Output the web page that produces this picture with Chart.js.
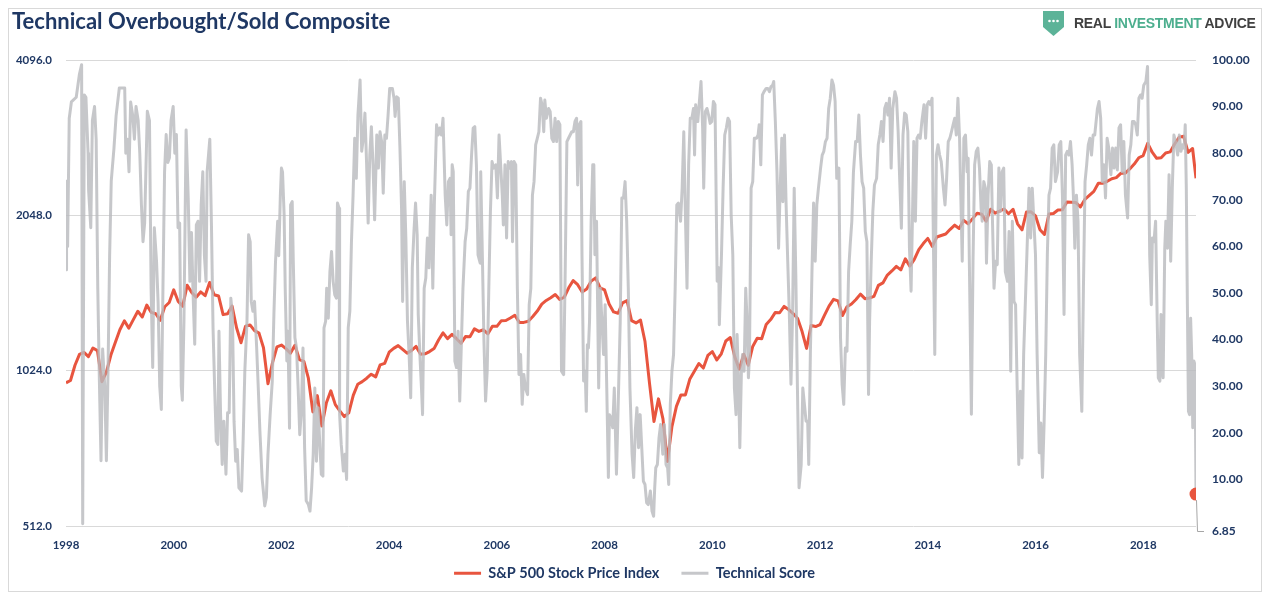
<!DOCTYPE html>
<html><head><meta charset="utf-8">
<script src="https://cdn.jsdelivr.net/npm/chart.js@4.4.1/dist/chart.umd.min.js"></script>
<style>
html,body{margin:0;padding:0;background:#fff;}
#wrap{position:relative;width:1269px;height:600px;overflow:hidden;}
#frame{position:absolute;left:8px;top:8px;width:1252px;height:582px;border:1px solid #d9d9d9;}
#title{position:absolute;left:12px;top:8px;font:bold 22px Lato, sans-serif;color:#1f3864;line-height:26px;white-space:nowrap;}
#logo{position:absolute;left:1043px;top:10px;height:26px;display:flex;align-items:center;}
#logo .t{font:bold 14px "Liberation Sans", Arial, sans-serif;color:#404040;margin-left:10px;letter-spacing:-0.3px;white-space:nowrap;}
#logo .g{color:#4cae8e;}
canvas{position:absolute;left:0;top:0;}
</style></head>
<body>
<div id="wrap">
  <div id="frame"></div>
  <canvas id="c" width="1269" height="600"></canvas>
  <div id="title">Technical Overbought/Sold Composite</div>
  <div id="logo">
    <svg width="21" height="25" viewBox="0 0 21 25"><path d="M0 0 H21 V16 L10.5 25 L0 16 Z" fill="#5cb398"/><circle cx="6.5" cy="10" r="1.3" fill="#fff"/><circle cx="10.5" cy="10" r="1.3" fill="#fff"/><circle cx="14.5" cy="10" r="1.3" fill="#fff"/></svg>
    <span class="t">REAL <span class="g">INVESTMENT</span> ADVICE</span>
  </div>
</div>
<script>
// ---- S&P 500: month-end values, first value = end of Dec 1997 (at 1998.0) ----
const spxStartYear = 1998;
const spxMonthEnd = [
  970,
  980,1049,1101,1111,1090,1133,1120,975,1017,1098,1163,1229,
  1279,1238,1286,1335,1301,1372,1328,1320,1282,1362,1388,1469,
  1394,1366,1499,1452,1421,1455,1431,1518,1437,1429,1315,1320,
  1366,1240,1160,1249,1256,1224,1211,1134,966,1060,1139,1148,
  1130,1107,1147,1076,1067,990,852,916,800,886,936,880,
  856,834,848,917,964,975,990,1008,996,1051,1058,1112,
  1131,1145,1126,1107,1121,1141,1102,1104,1115,1130,1174,1212,
  1181,1204,1181,1157,1192,1191,1234,1220,1229,1207,1249,1248,
  1280,1281,1295,1311,1270,1270,1277,1304,1336,1378,1401,1418,
  1438,1407,1421,1482,1531,1503,1455,1474,1527,1549,1481,1468,
  1379,1331,1323,1386,1400,1280,1267,1283,1166,969,816,903,
  826,683,798,873,919,919,987,1021,1057,1036,1096,1115,
  1074,1104,1169,1187,1089,1031,1102,1049,1141,1183,1181,1258,
  1286,1327,1326,1364,1345,1321,1292,1219,1131,1253,1247,1258,
  1312,1366,1408,1398,1310,1362,1379,1407,1441,1412,1416,1426,
  1498,1515,1569,1598,1631,1606,1686,1633,1682,1757,1806,1848,
  1783,1859,1872,1884,1924,1960,1931,2003,1972,2018,2068,2059,
  1995,2105,2068,2086,2107,2063,2104,1972,1920,2079,2080,2044,
  1920,1880,2060,2065,2097,2099,2174,2171,2168,2126,2199,2239,
  2279,2364,2363,2384,2412,2423,2470,2472,2519,2575,2648,2674,
  2824,2714,2641,2648,2705,2718,2816,2902,2914,2712,2760
];
const spxLastDate = 2018.98;
const spxLastValue = 2417;

// ---- Technical score: dates (decimal years) and values ----
const techDates = [
  1998.00,1998.01,1998.03,1998.06,1998.10,1998.19,1998.25,1998.29,1998.31,1998.34,1998.37,1998.41,1998.42,1998.46,1998.49,1998.53,1998.56,1998.59,1998.62,1998.65,1998.68,1998.72,1998.75,1998.78,1998.81,1998.84,1998.89,1998.93,1998.96,1998.99,
  1999.09,1999.11,1999.14,1999.17,1999.20,1999.24,1999.27,1999.30,1999.34,1999.37,1999.40,1999.43,1999.46,1999.51,1999.55,1999.58,1999.61,1999.64,1999.68,1999.71,1999.74,1999.77,1999.80,1999.83,1999.86,1999.89,1999.92,1999.95,1999.99,
  2000.02,2000.05,2000.08,2000.11,2000.14,2000.16,2000.19,2000.23,2000.27,2000.30,2000.33,2000.36,2000.39,2000.42,2000.45,2000.48,2000.51,2000.54,2000.57,2000.60,2000.62,2000.67,2000.70,2000.73,2000.76,2000.79,2000.82,2000.84,2000.87,2000.90,2000.93,2000.97,
  2001.00,2001.03,2001.06,2001.09,2001.12,2001.15,2001.18,2001.21,2001.26,2001.29,2001.32,2001.36,2001.39,2001.42,2001.44,2001.47,2001.50,2001.54,2001.57,2001.60,2001.64,2001.69,2001.72,2001.75,2001.79,2001.83,2001.86,2001.89,2001.93,2001.95,2001.98,
  2002.00,2002.02,2002.05,2002.07,2002.10,2002.12,2002.15,2002.17,2002.20,2002.22,2002.25,2002.28,2002.31,2002.34,2002.37,2002.40,2002.43,2002.46,2002.50,2002.53,2002.56,2002.59,2002.62,2002.65,2002.68,2002.71,2002.74,2002.77,2002.79,2002.82,2002.84,2002.87,2002.90,2002.93,2002.96,2002.99,
  2003.02,2003.04,2003.07,2003.08,2003.11,2003.15,2003.18,2003.21,2003.24,2003.27,2003.30,2003.33,2003.36,2003.39,2003.42,2003.46,2003.49,2003.52,2003.55,2003.58,2003.61,2003.64,2003.67,2003.70,2003.73,2003.77,2003.80,2003.83,2003.86,2003.89,2003.92,2003.95,2003.98,
  2004.01,2004.06,2004.09,2004.11,2004.14,2004.17,2004.20,2004.23,2004.25,2004.28,2004.31,2004.34,2004.37,2004.40,2004.43,2004.46,2004.49,2004.52,2004.54,2004.57,2004.60,2004.62,2004.65,2004.68,2004.71,2004.74,2004.78,2004.81,2004.84,2004.88,2004.91,2004.94,2004.97,
  2005.00,2005.04,2005.07,2005.10,2005.13,2005.15,2005.17,2005.19,2005.22,2005.25,2005.28,2005.31,2005.34,2005.37,2005.41,2005.44,2005.47,2005.50,2005.53,2005.56,2005.59,2005.62,2005.65,2005.69,2005.70,2005.73,2005.76,2005.79,2005.82,2005.85,2005.88,2005.91,2005.94,2005.98,
  2006.01,2006.04,2006.07,2006.10,2006.12,2006.15,2006.18,2006.21,2006.24,2006.27,2006.29,2006.32,2006.35,2006.38,2006.41,2006.44,2006.47,2006.50,2006.53,2006.57,2006.60,2006.63,2006.66,2006.69,2006.72,2006.75,2006.78,2006.81,2006.84,2006.87,2006.89,2006.92,2006.96,2006.99,
  2007.02,2007.05,2007.08,2007.11,2007.14,2007.17,2007.20,2007.24,2007.27,2007.30,2007.33,2007.36,2007.39,2007.42,2007.45,2007.48,2007.50,2007.53,2007.56,2007.58,2007.61,2007.64,2007.66,2007.68,2007.70,2007.72,2007.75,2007.78,2007.80,2007.82,2007.85,2007.89,2007.92,2007.95,2007.98,
  2008.01,2008.04,2008.07,2008.09,2008.12,2008.15,2008.18,2008.22,2008.26,2008.29,2008.32,2008.35,2008.38,2008.41,2008.44,2008.47,2008.51,2008.54,2008.57,2008.60,2008.63,2008.66,2008.69,2008.72,2008.75,2008.78,2008.81,2008.85,2008.88,2008.91,2008.93,2008.95,2008.98,
  2009.01,2009.04,2009.08,2009.11,2009.14,2009.17,2009.19,2009.22,2009.25,2009.28,2009.31,2009.34,2009.37,2009.41,2009.44,2009.47,2009.50,2009.53,2009.56,2009.59,2009.62,2009.65,2009.67,2009.69,2009.73,2009.76,2009.79,2009.82,2009.84,2009.87,2009.90,2009.93,2009.96,2009.99,
  2010.02,2010.05,2010.09,2010.12,2010.13,2010.17,2010.20,2010.23,2010.26,2010.29,2010.32,2010.35,2010.38,2010.41,2010.44,2010.46,2010.49,2010.51,2010.54,2010.56,2010.59,2010.62,2010.64,2010.67,2010.69,2010.72,2010.75,2010.78,2010.82,2010.85,2010.87,2010.90,2010.93,2010.96,
  2011.00,2011.03,2011.06,2011.09,2011.12,2011.14,2011.17,2011.20,2011.23,2011.26,2011.29,2011.31,2011.34,2011.37,2011.40,2011.43,2011.46,2011.49,2011.52,2011.55,2011.58,2011.61,2011.65,2011.68,2011.71,2011.74,2011.77,2011.79,2011.82,2011.85,2011.88,2011.91,2011.94,2011.97,
  2012.01,2012.04,2012.07,2012.10,2012.13,2012.16,2012.19,2012.22,2012.25,2012.28,2012.31,2012.35,2012.36,2012.38,2012.41,2012.44,2012.47,2012.50,2012.53,2012.56,2012.59,2012.62,2012.66,2012.69,2012.72,2012.75,2012.78,2012.81,2012.84,2012.87,2012.90,2012.92,2012.95,2012.98,
  2013.01,2013.05,2013.08,2013.11,2013.14,2013.17,2013.20,2013.23,2013.26,2013.29,2013.32,2013.35,2013.39,2013.42,2013.45,2013.48,2013.51,2013.54,2013.57,2013.60,2013.63,2013.66,2013.69,2013.72,2013.74,2013.77,2013.80,2013.83,2013.86,2013.89,2013.93,2013.96,2013.99,
  2014.02,2014.05,2014.08,2014.10,2014.13,2014.16,2014.19,2014.22,2014.25,2014.29,2014.32,2014.35,2014.38,2014.41,2014.44,2014.47,2014.50,2014.53,2014.56,2014.59,2014.61,2014.64,2014.67,2014.70,2014.73,2014.75,2014.77,2014.81,2014.84,2014.87,2014.90,2014.93,2014.96,2014.99,
  2015.01,2015.04,2015.07,2015.09,2015.12,2015.15,2015.18,2015.20,2015.23,2015.26,2015.29,2015.32,2015.35,2015.38,2015.41,2015.44,2015.48,2015.51,2015.54,2015.57,2015.60,2015.63,2015.66,2015.69,2015.72,2015.75,2015.78,2015.82,2015.85,2015.88,2015.91,2015.94,2015.97,
  2016.00,2016.03,2016.07,2016.10,2016.13,2016.16,2016.19,2016.22,2016.25,2016.28,2016.31,2016.34,2016.37,2016.41,2016.44,2016.47,2016.50,2016.53,2016.56,2016.59,2016.62,2016.65,2016.68,2016.71,2016.73,2016.76,2016.79,2016.82,2016.86,2016.89,2016.92,2016.95,2016.98,
  2017.01,2017.04,2017.07,2017.10,2017.15,2017.18,2017.21,2017.24,2017.27,2017.30,2017.33,2017.36,2017.40,2017.43,2017.46,2017.49,2017.52,2017.55,2017.58,2017.61,2017.64,2017.67,2017.71,2017.74,2017.77,2017.80,2017.83,2017.86,2017.89,2017.92,2017.95,2017.98,
  2018.01,2018.05,2018.08,2018.10,2018.12,2018.15,2018.17,2018.20,2018.23,2018.26,2018.28,2018.31,2018.33,2018.36,2018.37,2018.40,2018.42,2018.45,2018.48,2018.51,2018.54,2018.57,2018.60,2018.64,2018.67,2018.70,2018.73,2018.76,2018.78,2018.80,2018.82,2018.84,2018.86,2018.88,2018.90,2018.92,2018.94,2018.96,2018.97,2018.98
];
const techValues = [
  55,74,60,87.5,91,92,97,99,0.5,92.5,92,80,72,64,87,90,83,51,31,14,38,30,14,33,58,74,81,88,91,94,
  94,80,83,76,91,88,83,90,87,80,69,61,65,89,87,51,34,64,57,48,30,25,51,76,84,78,79,87,90,
  80,84,64,65,30,27,44,85,70,52.5,63,49.6,39,64.6,65.4,52.5,69,76,58,52.5,76,83,65,42.5,29.6,18.2,17.5,41.8,23.9,13.2,22.5,11.1,
  24.3,24.3,48.9,45.4,22.5,13.9,16.4,8.2,7.5,18.9,33.2,43.9,62.5,61,48.2,46.1,48.2,38.2,29.6,20.4,10.4,4.3,6.1,15.4,23.9,31.1,45.4,56.8,65.4,58,71,
  76.8,76,66.8,51,35.4,41.8,21,68.9,69.6,56.8,40.4,38.2,29.6,19.6,24.6,38.2,16.8,5.4,4.6,3.2,8.2,15.4,29.6,13.9,25.4,18.2,11.1,10.7,42.5,43.9,51,44.6,54.6,58.9,52.5,49.6,
  48.9,69.3,68.2,23.9,17.5,11.8,15.4,10,42.5,46.1,61,71,83.2,74.6,88.2,95.7,80.4,83.2,88.6,78.2,65,79.6,85.7,77.5,65.7,83.9,76.8,84.6,82.5,71.4,83.9,83.2,88.2,
  93.9,93.9,91.8,87.9,92.1,91.8,81.1,68.2,48.2,73.9,61.8,43.9,36.8,27.5,55.4,63.2,69.3,62.5,45.4,36.8,29.6,23.9,51,53.2,61.8,55.4,71,51,69.6,86.1,83.9,85.4,83.9,
  87.5,71,64.6,73.9,74.6,62.5,77.5,76,35.4,34,41.8,26.8,38.9,51,61,63.9,71.8,72.5,79.6,85.4,85.7,77.5,58.2,56.4,76,58.2,39.6,26.8,33.2,51,67.5,78.2,76.8,77.5,
  70.4,83.9,77.5,71,64.6,77.5,61.8,78.2,76.8,78.2,61,78.2,77.5,51,32.5,36.8,26.1,32.5,29.6,28.2,47.5,51,71,73.9,81.8,83.2,84.6,91.8,90.4,84.6,91.4,87.5,89.6,88.9,
  83.2,82.5,87.5,82.5,86.8,86.1,33.2,32.5,56.1,82.5,83.2,83.9,84.6,84.6,86.8,87.5,73.2,86.1,86.8,58.2,31.1,33.2,24.6,38.9,38.2,43.9,65.4,77.5,77.5,58.2,65.4,29.6,51,43.9,36.8,
  47.5,29.6,10.4,23.9,23.2,21.1,29.6,11.1,29.6,43.9,70.4,70.4,73.9,65.4,51,29.6,15.4,10.4,20.4,25.4,16.8,23.9,16.8,9.6,8.9,5,4.6,7.5,3.2,2.1,8.2,12.5,13.2,
  18.9,21.8,15.4,21.8,13.2,12.5,8.9,26.1,33.2,36.8,51,68.9,69.3,65.4,72.5,84.6,66.8,51,77.5,87.5,87.5,89.6,79.6,90.4,86.8,91.1,95.4,85.4,72.5,88.9,89.6,88.2,86.4,86.8,
  91.1,90.4,52.5,55.4,43.2,58.2,72.5,83.9,85.4,87.5,86.8,66.8,58.2,29.6,23.9,41.1,29.6,16.8,33.2,36.8,33.2,51,45.4,31.8,36.8,72.5,73.9,83.2,83.2,83.9,86.1,77.5,92.5,93.2,
  93.9,93.9,93.2,94.3,94.6,95.4,86.8,76,59.6,72.5,83.2,69.6,83.9,68.9,56.8,45.4,30.4,45.4,72.5,53.9,29.6,8.2,13.2,29.6,26.1,22.5,22.5,13.2,36.8,54.6,69.3,56.8,68.9,72.5,
  76.8,79.6,80.4,82.5,83.2,89.6,91.8,95.7,94.6,91.1,74.6,76.8,65.4,40.4,30.4,26.1,38.2,37.5,54.6,60.4,65.4,76,82.5,82.5,88.2,79.6,73.9,72.5,63.2,61,28.2,43.9,56.8,67.5,
  73.2,74.6,81.8,83.9,86.8,82.5,89.6,90.7,88.2,91.8,76.8,89.6,93.2,91.8,84.6,73.9,63.9,83.9,88.6,88.2,84.6,59.6,50.4,68.9,82.5,65.4,83.2,83.9,83.2,86.8,90.4,83.2,90.4,
  91.1,90.4,91.8,65.4,36.8,79.6,81.8,79.6,78.2,72.5,68.9,74.6,82.5,83.2,84.6,86.1,87.5,83.9,91.8,83.2,72.5,56.8,83.2,83.9,76,78.9,58.2,24,56.8,77.5,80.4,81.1,76.8,68.2,
  65.4,73.9,72.5,56.4,71,78.2,77.5,66.1,51,56.8,56.1,76.8,67.5,76,76.8,54.6,52.5,63.2,33.2,65.4,48.2,47.5,29.6,13.2,28.9,14.6,36.8,51,61.8,72.5,61.8,72.5,65.4,
  58.2,36.8,15.7,22.1,10.4,22.1,36.8,58.2,71,72.5,81.1,81.8,73.9,76,81.8,82.5,71,45.4,79.6,80.4,79.6,82.5,77.5,68.9,59.6,71,65.4,36.8,24.6,51,73.9,77.5,81.8,
  83.2,79.6,83.9,83.9,89.6,91.1,87.5,73.9,77.5,70.4,83.2,81.1,75.4,81.1,76.8,81.1,76.4,85.4,86.1,76,82.5,71,66.1,79.6,81.8,86.8,86.8,86.1,83.9,91.8,92.5,91.8,
  94.6,95.4,98.6,79.6,58.2,47.5,61.8,61,65.4,43.9,31.8,31.1,45.4,33.2,31.8,59.6,65.4,59.6,75.4,56.8,72.5,83.9,82.5,79.6,83.9,80.4,81.8,81.1,86.1,72.5,47.5,24.6,23.9,44.6,36.8,21.1,35.4,34.6,22.5,6.85
];

// ---- Axis ticks ----
const yearTicks = [1998,2000,2002,2004,2006,2008,2010,2012,2014,2016,2018];
const spxTicks = [512,1024,2048,4096];
const scoreTicks = [10,20,30,40,50,60,70,80,90,100];

const RED = '#e8553f';
const GRAY = 'rgba(186,187,190,0.82)';
const NAVY = '#1f3864';
const TICK_FONT = {family:'Lato', weight:'bold', size:11.5};

const spxPoints = spxMonthEnd.map((v,i)=>({x: spxStartYear + i/12, y: v}));
spxPoints.push({x: spxLastDate, y: spxLastValue});
const n = Math.min(techDates.length, techValues.length);
const techPoints = [];
for (let i=0;i<n;i++) techPoints.push({x: techDates[i], y: techValues[i]});

const lastValueCallout = {
  id:'lastValueCallout',
  afterDatasetsDraw(chart){
    const meta = chart.getDatasetMeta(1);
    const pt = meta.data[meta.data.length-1];
    const area = chart.chartArea;
    const ctx = chart.ctx;
    const yLabel = area.bottom + 5;
    ctx.save();
    ctx.strokeStyle = '#a6a6a6'; ctx.lineWidth = 1;
    ctx.beginPath();
    ctx.moveTo(pt.x + 0.5, pt.y + 6);
    ctx.lineTo(pt.x + 1.5, yLabel + 0.5);
    ctx.lineTo(pt.x + 8, yLabel + 0.5);
    ctx.stroke();
    ctx.fillStyle = NAVY;
    ctx.font = 'bold 12px Lato';
    ctx.textAlign = 'left'; ctx.textBaseline = 'middle';
    ctx.fillText(techValues[n-1].toFixed(2), area.right + 16, yLabel);
    ctx.restore();
  }
};

// move the legend row up a little so it sits where the original's does
const legendShift = {
  id:'legendShift',
  afterLayout(chart){
    const l = chart.legend;
    if (l) { l.top -= 9; l.bottom -= 9; }
  }
};

new Chart(document.getElementById('c'), {
  type:'line',
  data:{
    datasets:[
      {label:'S&P 500 Stock Price Index', data: spxPoints, yAxisID:'y', borderColor: RED, backgroundColor: RED,
       borderWidth:3, pointRadius:0, pointHoverRadius:0, tension:0, borderJoinStyle:'round', order:1},
      {label:'Technical Score', data: techPoints, yAxisID:'y1', borderColor: GRAY, backgroundColor: GRAY,
       borderWidth:3, tension:0, borderJoinStyle:'round', order:0,
       pointRadius: c => c.dataIndex === n-1 ? 6.5 : 0,
       pointHoverRadius: c => c.dataIndex === n-1 ? 6.5 : 0,
       pointBackgroundColor: RED, pointBorderColor: RED, pointBorderWidth:0}
    ]
  },
  options:{
    responsive:false, animation:false,
    events:[],
    layout:{padding:{left:0,right:0,top:60,bottom:0.5}},
    scales:{
      x:{type:'linear', min:1998, max:2018.98,
         afterBuildTicks: s => { s.ticks = yearTicks.map(v=>({value:v})); },
         afterFit: s => { s.height = 27; },
         grid:{display:false, drawTicks:false}, border:{display:false},
         ticks:{autoSkip:false, maxRotation:0, padding:12, color:NAVY, font:TICK_FONT, callback: v => String(v)}},
      y:{type:'logarithmic', position:'left', min:512, max:4096,
         afterBuildTicks: s => { s.ticks = spxTicks.map(v=>({value:v})); },
         afterFit: s => { s.width = 66; },
         grid:{color:'#d9d9d9', lineWidth:1, drawTicks:false}, border:{display:false},
         ticks:{autoSkip:false, padding:14, color:NAVY, font:TICK_FONT, callback: v => Number(v).toFixed(1)}},
      y1:{type:'linear', position:'right', min:0, max:100,
         afterBuildTicks: s => { s.ticks = scoreTicks.map(v=>({value:v})); },
         afterFit: s => { s.width = 73; },
         grid:{display:false, drawTicks:false}, border:{display:false},
         ticks:{autoSkip:false, padding:16, color:NAVY, font:{family:'Lato', weight:'bold', size:12}, callback: v => Number(v).toFixed(2)}}
    },
    plugins:{
      tooltip:{enabled:false},
      legend:{position:'bottom',
        labels:{boxWidth:27, boxHeight:3, padding:22, color:NAVY,
          font:{family:'Lato', weight:'bold', size:14.5},
          sort:(a,b)=>a.datasetIndex-b.datasetIndex,
          generateLabels: chart => Chart.defaults.plugins.legend.labels.generateLabels(chart)
            .map(l => Object.assign(l, {fillStyle:l.strokeStyle, lineWidth:0}))}}
    }
  },
  plugins:[lastValueCallout, legendShift]
});
</script>
</body></html>
